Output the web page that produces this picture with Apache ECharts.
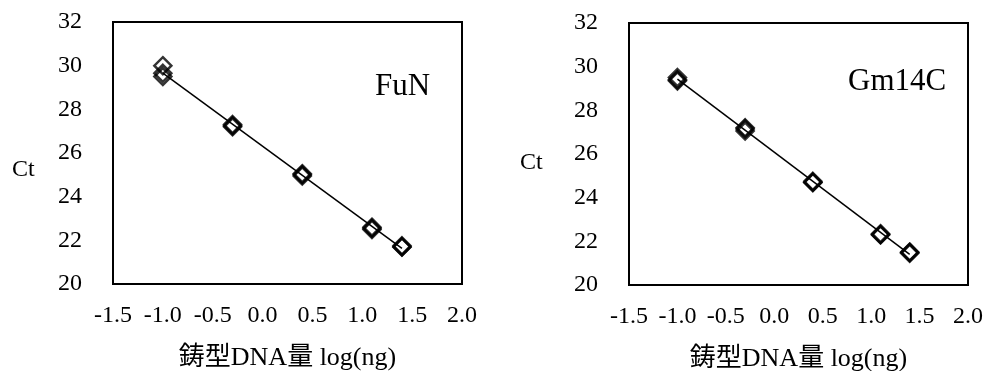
<!DOCTYPE html>
<html><head><meta charset="utf-8">
<script src="https://cdn.jsdelivr.net/npm/echarts@6/dist/echarts.min.js"></script>
<style>html,body{margin:0;padding:0;background:#fff}#c{width:987px;height:371px}</style>
</head><body><div id="c"></div>
<script>
// log10 of template DNA amount (ng): 0.1, 0.5, 2.5, 12.5, 25
const logDNA = [-1.0, -0.301, 0.398, 1.097, 1.398];
// Ct replicates per dilution
const funCt = [[30.0, 29.65, 29.5], [27.3, 27.25, 27.2], [25.05, 25.0, 24.95], [22.6, 22.55, 22.5], [21.75, 21.7, 21.7]];
const gm14cCt = [[29.5, 29.4, 29.35], [27.2, 27.15, 27.05], [24.75, 24.7, 24.7], [22.35, 22.3, 22.3], [21.5, 21.5, 21.45]];
const xTicks = [-1.5, -1.0, -0.5, 0.0, 0.5, 1.0, 1.5, 2.0];
const yTicks = [20, 22, 24, 26, 28, 30, 32];
const panelNames = ['FuN', 'Gm14C'];
const xAxisTitle = '鋳型DNA量 log(ng)';
const yAxisTitle = 'Ct';

const FONT = '"Liberation Serif", "Times New Roman", "Noto Sans CJK JP", serif';

function points(ct) {
  const out = [];
  ct.forEach((reps, i) => reps.forEach(v => out.push([logDNA[i], v])));
  return out;
}
function fitLine(pts) {
  const n = pts.length;
  const mx = pts.reduce((s, p) => s + p[0], 0) / n;
  const my = pts.reduce((s, p) => s + p[1], 0) / n;
  let sxy = 0, sxx = 0;
  pts.forEach(p => { sxy += (p[0] - mx) * (p[1] - my); sxx += (p[0] - mx) ** 2; });
  const b = sxy / sxx, a = my - b * mx;
  const x0 = Math.min(...pts.map(p => p[0])), x1 = Math.max(...pts.map(p => p[0]));
  return [[x0, a + b * x0], [x1, a + b * x1]];
}

const panels = [points(funCt), points(gm14cCt)];
const grids = [
  { left: 113, top: 22, width: 349, height: 262 },
  { left: 629, top: 23, width: 339, height: 262 }
];

const option = {
  backgroundColor: '#fff',
  animation: false,
  textStyle: { fontFamily: FONT, color: '#000' },
  grid: grids.map(g => Object.assign({ show: true, borderColor: '#000', borderWidth: 2, backgroundColor: 'transparent', containLabel: false, outerBoundsMode: 'none' }, g)),
  xAxis: grids.map((g, i) => ({
    gridIndex: i, type: 'value', min: xTicks[0], max: xTicks[xTicks.length - 1], interval: 0.5,
    axisLine: { show: false }, axisTick: { show: false }, splitLine: { show: false },
    axisLabel: { fontFamily: FONT, fontSize: 24, color: '#000', margin: 20, formatter: v => v.toFixed(1) },
    name: xAxisTitle, nameLocation: 'middle', nameGap: 61,
    nameTextStyle: { fontFamily: FONT, fontSize: 26, color: '#000' }
  })),
  yAxis: grids.map((g, i) => ({
    gridIndex: i, type: 'value', min: yTicks[0], max: yTicks[yTicks.length - 1], interval: 2,
    axisLine: { show: false }, axisTick: { show: false }, splitLine: { show: false },
    axisLabel: { fontFamily: FONT, fontSize: 24, color: '#000', margin: 31, padding: [4, 0, 0, 0] }
  })),
  graphic: [
    { type: 'text', left: 12, top: 158, style: { text: yAxisTitle, font: '24px ' + FONT, fill: '#000' } },
    { type: 'text', left: 520, top: 151, style: { text: yAxisTitle, font: '24px ' + FONT, fill: '#000' } },
    { type: 'text', left: 375, top: 71, style: { text: panelNames[0], font: '31px ' + FONT, fill: '#000' } },
    { type: 'text', left: 848, top: 66, style: { text: panelNames[1], font: '31px ' + FONT, fill: '#000' } }
  ],
  series: []
};

panels.forEach((pts, i) => {
  option.series.push({
    type: 'line', xAxisIndex: i, yAxisIndex: i, data: fitLine(pts), showSymbol: false, silent: true,
    lineStyle: { color: '#000', width: 1.5 }, z: 2
  });
  option.series.push({
    type: 'scatter', xAxisIndex: i, yAxisIndex: i, data: pts, symbol: 'diamond', symbolSize: 17,
    itemStyle: { color: 'rgba(255,255,255,0)', borderColor: '#000', borderWidth: 2.5 }, z: 3
  });
});

const chart = echarts.init(document.getElementById('c'), null, { renderer: 'canvas' });
chart.setOption(option);
</script></body></html>
